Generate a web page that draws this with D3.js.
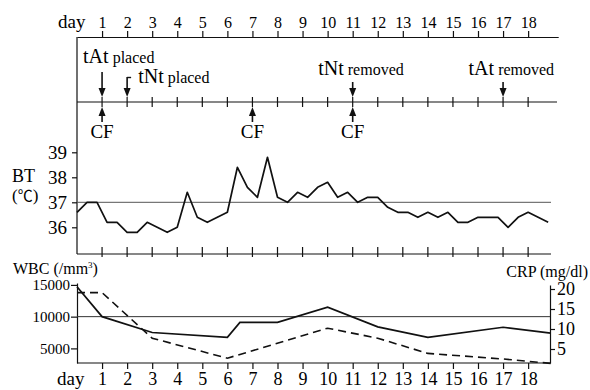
<!DOCTYPE html>
<html><head><meta charset="utf-8">
<script src="https://cdn.jsdelivr.net/npm/d3@7"></script>
<style>
body{margin:0;background:#fff}
text{font-family:"Liberation Serif","Times New Roman",serif;fill:#000}
</style>
</head><body><svg id="c" width="590" height="390"></svg>
<script>
// ---------- data ----------
const dayTicks = [1,2,3,4,5,6,7,8,9,10,11,12,13,14,15,16,17,18];
const btTicks = [36,37,38,39];
const btStep = 0.4; // days between temperature readings
const btValues = [36.6,37.0,37.0,36.2,36.2,35.8,35.8,36.2,36.0,35.8,36.0,37.4,36.4,36.2,36.4,36.6,
  38.4,37.6,37.2,38.8,37.2,37.0,37.4,37.2,37.6,37.8,37.2,37.4,37.0,37.2,37.2,36.8,36.6,36.6,
  36.4,36.6,36.4,36.6,36.2,36.2,36.4,36.4,36.4,36.0,36.4,36.6,36.4,36.2];
const wbcDays = [0,1,3,6,6.5,8,10,12,14,17,18.9];
const wbcValues = [14700,10000,7500,6750,9100,9100,11500,8400,6750,8330,7400];
const crpDays = [0,1,3,6,10,12,14,17,18.9];
const crpValues = [19.1,19.1,7.7,2.7,10.2,7.7,3.9,2.5,1.4];
const wbcTicks = [5000,10000,15000];
const crpTicks = [5,10,15,20];
const placedEvents = [{day:1,name:"tAt",word:" placed"},{day:2,name:"tNt",word:" placed"}];
const removedEvents = [{day:11,name:"tNt",word:" removed"},{day:17,name:"tAt",word:" removed"}];
const cfDays = [1,7,11];

// ---------- layout ----------
const svg = d3.select("#c");
const x = d3.scaleLinear().domain([0,19.2]).range([77,558.2]);
const btY = d3.scaleLinear().domain([36,39]).range([227.3,152.3]);
const wbcY = d3.scaleLinear().domain([2700,15300]).range([363,283]);
const crpY = d3.scaleLinear().domain([1.5,21]).range([363,285]);
const ink = "#111";

function line(x1,y1,x2,y2,w,c){svg.append("line").attr("x1",x1).attr("y1",y1).attr("x2",x2).attr("y2",y2)
  .attr("stroke",c||ink).attr("stroke-width",w||1.2);}

// top day axis
const topAx = svg.append("g").attr("transform","translate(0,37)")
  .call(d3.axisTop(x).tickValues(dayTicks).tickSize(6).tickSizeOuter(0).tickPadding(3));
topAx.select(".domain").attr("stroke",ink).attr("stroke-width",1.2);
topAx.selectAll(".tick line").attr("stroke",ink).attr("stroke-width",1.2);
topAx.selectAll(".tick text").attr("font-size",16).attr("font-family","Liberation Serif");
svg.append("text").attr("x",58).attr("y",28).attr("font-size",19).text("day");

// left long vertical
line(77,37,77,254);
// middle event line
line(77,102,557,102);
dayTicks.forEach(d=>line(x(d),97,x(d),107));

// arrow helpers
function arrowDown(cx,y1,y2){
  line(cx,y1,cx,y2-7,1.6);
  svg.append("path").attr("d",`M${cx-3.5},${y2-9}L${cx+3.5},${y2-9}L${cx},${y2}Z`).attr("fill",ink);
}
function arrowUp(cx,y1,y2){
  line(cx,y1+7,cx,y2,1.6);
  svg.append("path").attr("d",`M${cx-3.5},${y1+9}L${cx+3.5},${y1+9}L${cx},${y1}Z`).attr("fill",ink);
}
function evLabel(px,py,name,word){
  const t = svg.append("text").attr("x",px).attr("y",py);
  t.append("tspan").attr("font-size",20).text(name);
  t.append("tspan").attr("font-size",16).text(word);
}
// placed
arrowDown(x(placedEvents[0].day),72,97);
evLabel(x(placedEvents[0].day)-19,63,placedEvents[0].name,placedEvents[0].word);
arrowDown(x(placedEvents[1].day),77,97);
line(x(placedEvents[1].day),77.5,x(placedEvents[1].day)+4,77.5,1.4);
evLabel(x(placedEvents[1].day)+11,83,placedEvents[1].name,placedEvents[1].word);
// removed
removedEvents.forEach(e=>{
  arrowDown(x(e.day),82,97);
  evLabel(x(e.day)-34.5,75,e.name,e.word);
});
// CF
cfDays.forEach(d=>{
  arrowUp(x(d),107,122);
  svg.append("text").attr("x",x(d)).attr("y",137.5).attr("text-anchor","middle").attr("font-size",19).text("CF");
});

// ---------- BT panel ----------
const btAx = svg.append("g").attr("transform","translate(77,0)")
  .call(d3.axisLeft(btY).tickValues(btTicks).tickSize(5).tickPadding(5).tickFormat(d3.format("d")));
btAx.select(".domain").remove();
btAx.selectAll(".tick line").attr("stroke",ink).attr("stroke-width",1.2);
btAx.selectAll(".tick text").attr("font-size",19).attr("font-family","Liberation Serif");
svg.append("text").attr("x",12).attr("y",182).attr("font-size",18).text("BT");
const cl = svg.append("text").attr("x",12).attr("y",201).attr("font-size",17);
cl.append("tspan").text("(");
cl.append("tspan").attr("font-size",15).style("font-family","'Noto Sans CJK JP','DejaVu Sans',sans-serif").text("℃");
cl.append("tspan").text(")");
// reference line 37
line(77,btY(37),551,btY(37),1,"#555");
// bottom axis of BT
line(77,254,551,254);
dayTicks.forEach(d=>line(x(d),247,x(d),257));
// BT line
svg.append("path").datum(btValues)
  .attr("d",d3.line().x((v,i)=>x(i*btStep)).y(v=>btY(v)))
  .attr("fill","none").attr("stroke",ink).attr("stroke-width",1.7).attr("stroke-linejoin","round");

// ---------- WBC / CRP panel ----------
const wAx = svg.append("g").attr("transform","translate(77,0)")
  .call(d3.axisLeft(wbcY).tickValues(wbcTicks).tickSize(6).tickPadding(1).tickSizeOuter(0).tickFormat(d3.format("d")));
wAx.select(".domain").attr("stroke",ink).attr("stroke-width",1.2);
wAx.selectAll(".tick line").attr("stroke",ink).attr("stroke-width",1.2);
wAx.selectAll(".tick text").attr("font-size",15).attr("font-family","Liberation Serif");
const cAx = svg.append("g").attr("transform","translate(550,0)")
  .call(d3.axisRight(crpY).tickValues(crpTicks).tickSize(5).tickPadding(2).tickSizeOuter(0));
cAx.select(".domain").attr("stroke",ink).attr("stroke-width",1.2);
cAx.selectAll(".tick line").attr("stroke",ink).attr("stroke-width",1.2);
cAx.selectAll(".tick text").attr("font-size",18).attr("font-family","Liberation Serif");

const wl = svg.append("text").attr("x",13).attr("y",274).attr("font-size",16);
wl.append("tspan").text("WBC (/mm");
wl.append("tspan").attr("font-size",9).attr("dy",-6).text("3");
wl.append("tspan").attr("dy",6).text(")");
svg.append("text").attr("x",588).attr("y",277).attr("text-anchor","end").attr("font-size",16).text("CRP (mg/dl)");

line(77,wbcY(10000),550,wbcY(10000),1,"#333");
// bottom axis
const bAx = svg.append("g").attr("transform","translate(0,363)")
  .call(d3.axisBottom(x).tickValues(dayTicks).tickSize(6).tickSizeOuter(0).tickPadding(6));
bAx.select(".domain").attr("d","M77,0H550").attr("stroke",ink).attr("stroke-width",1.2);
bAx.selectAll(".tick line").attr("stroke",ink).attr("stroke-width",1.2);
bAx.selectAll(".tick text").attr("font-size",18).attr("font-family","Liberation Serif")
  .attr("y",22).attr("dy",0);
svg.append("text").attr("x",57).attr("y",385).attr("font-size",19).text("day");

svg.append("path").datum(wbcDays.map((d,i)=>[d,wbcValues[i]]))
  .attr("d",d3.line().x(p=>x(p[0])).y(p=>wbcY(p[1])))
  .attr("fill","none").attr("stroke",ink).attr("stroke-width",1.7);
svg.append("path").datum(crpDays.map((d,i)=>[d,crpValues[i]]))
  .attr("d",d3.line().x(p=>x(p[0])).y(p=>crpY(p[1])))
  .attr("fill","none").attr("stroke",ink).attr("stroke-width",1.6).attr("stroke-dasharray","8,5");
</script></body></html>
